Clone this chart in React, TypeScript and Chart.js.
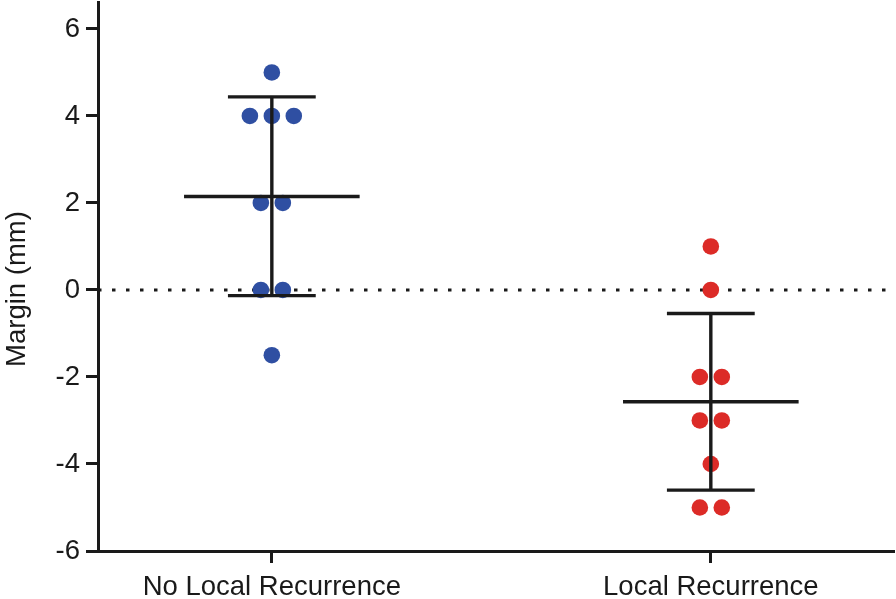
import React, { useEffect, useRef } from "react";
import { Chart, registerables } from "chart.js";

Chart.register(...registerables);

// ---- data ----
const categories = ["No Local Recurrence", "Local Recurrence"];
const noRecurrence = [5, 4, 4, 4, 2, 2, 0, 0, -1.5];
const localRecurrence = [1, 0, -2, -2, -3, -3, -4, -5, -5];
const means = [2.15, -2.57];
const sdUpper = [4.44, -0.54];
const sdLower = [-0.13, -4.6];
const yTicks = [-6, -4, -2, 0, 2, 4, 6];
const yTitle = "Margin (mm)";

// ---- styling ----
const ink = "#1a1a1a";
const blue = "#2f4fa2";
const red = "#dc2b27";
const fontFamily = "'Liberation Sans', Arial, Helvetica, sans-serif";
const font = { family: fontFamily, size: 27.5 };
const xMin = 0.604;
const xMax = 2.415;
const yMin = -6;
const yMax = 6.62;

// symmetric spread of equal values around the category centre (column scatter)
function swarm(values: number[], center: number, step: number) {
  const counts = new Map<number, number>();
  values.forEach((v) => counts.set(v, (counts.get(v) || 0) + 1));
  const seen = new Map<number, number>();
  return values.map((v) => {
    const n = counts.get(v) as number;
    const i = seen.get(v) || 0;
    seen.set(v, i + 1);
    return { x: center + (i - (n - 1) / 2) * step, y: v };
  });
}

function errorBar(i: number) {
  const c = i + 1;
  const m = means[i];
  const u = sdUpper[i];
  const l = sdLower[i];
  return [
    { x: c - 0.2, y: m },
    { x: c + 0.2, y: m },
    { x: c, y: null },
    { x: c - 0.1, y: u },
    { x: c + 0.1, y: u },
    { x: c, y: null },
    { x: c - 0.1, y: l },
    { x: c + 0.1, y: l },
    { x: c, y: null },
    { x: c, y: l },
    { x: c, y: u },
  ];
}

const yTitlePlugin = {
  id: "yTitlePlugin",
  afterDraw(chart: any) {
    const ctx = chart.ctx as CanvasRenderingContext2D;
    ctx.save();
    ctx.translate(25, 289);
    ctx.rotate(-Math.PI / 2);
    ctx.font = `${font.size}px ${fontFamily}`;
    ctx.fillStyle = ink;
    ctx.textAlign = "center";
    ctx.textBaseline = "alphabetic";
    ctx.fillText(yTitle, 0, 0);
    ctx.restore();
  },
};

export default function App() {
  const canvasRef = useRef<HTMLCanvasElement | null>(null);

  useEffect(() => {
    if (!canvasRef.current) return;
    const lineCommon = {
      type: "line" as const,
      borderColor: ink,
      borderWidth: 3.4,
      pointRadius: 0,
      pointHoverRadius: 0,
      spanGaps: false,
      fill: false,
      tension: 0,
      borderCapStyle: "butt" as const,
    };
    const chart = new Chart(canvasRef.current, {
      type: "scatter",
      data: {
        datasets: [
          {
            ...lineCommon,
            data: errorBar(0) as any,
            order: 1,
          },
          {
            ...lineCommon,
            data: errorBar(1) as any,
            order: 1,
          },
          {
            type: "scatter",
            data: swarm(noRecurrence, 1, 0.05),
            pointRadius: 8.3,
            pointHoverRadius: 8.3,
            pointBorderWidth: 0,
            pointBackgroundColor: blue,
            backgroundColor: blue,
            borderColor: blue,
            order: 2,
          },
          {
            type: "scatter",
            data: swarm(localRecurrence, 2, 0.05),
            pointRadius: 8.3,
            pointHoverRadius: 8.3,
            pointBorderWidth: 0,
            pointBackgroundColor: red,
            backgroundColor: red,
            borderColor: red,
            order: 2,
          },
          {
            ...lineCommon,
            borderWidth: 3,
            borderDash: [3.5, 10.5],
            data: [
              { x: xMin, y: 0 },
              { x: xMax, y: 0 },
            ] as any,
            order: 3,
          },
        ] as any,
      },
      options: {
        animation: false,
        responsive: true,
        maintainAspectRatio: false,
        layout: { autoPadding: false, padding: { top: 2, right: 3, left: 0, bottom: 0 } },
        plugins: {
          legend: { display: false },
          tooltip: { enabled: false },
          title: { display: false },
        },
        scales: {
          x: {
            type: "linear",
            min: xMin,
            max: xMax,
            afterBuildTicks: (s: any) => {
              s.ticks = categories.map((_, i) => ({ value: i + 1 }));
            },
            afterFit: (s: any) => {
              s.height = 48;
              s.paddingLeft = 0;
              s.paddingRight = 0;
            },
            ticks: {
              callback: (_v: any, i: number) => categories[i] ?? "",
              font,
              color: ink,
              padding: 8,
              autoSkip: false,
              maxRotation: 0,
              minRotation: 0,
            },
            grid: {
              drawOnChartArea: false,
              drawTicks: true,
              tickLength: 12,
              tickWidth: 3,
              tickColor: ink,
              lineWidth: 3,
              color: ink,
            },
            border: { display: true, width: 3, color: ink },
          },
          y: {
            type: "linear",
            min: yMin,
            max: yMax,
            afterBuildTicks: (s: any) => {
              s.ticks = yTicks.map((v) => ({ value: v }));
            },
            afterFit: (s: any) => {
              s.width = 98;
              s.paddingTop = 0;
              s.paddingBottom = 0;
            },
            ticks: {
              font,
              color: ink,
              padding: 6,
              callback: (v: any) => String(v),
            },
            grid: {
              drawOnChartArea: false,
              drawTicks: true,
              tickLength: 12,
              tickWidth: 3,
              tickColor: ink,
              lineWidth: 3,
              color: ink,
            },
            border: { display: true, width: 3, color: ink },
          },
        },
      },
      plugins: [yTitlePlugin],
    });
    return () => chart.destroy();
  }, []);

  return (
    <div
      style={{
        position: "fixed",
        left: 0,
        top: 0,
        width: 896,
        height: 599,
        background: "#ffffff",
      }}
    >
      <canvas ref={canvasRef} />
    </div>
  );
}
